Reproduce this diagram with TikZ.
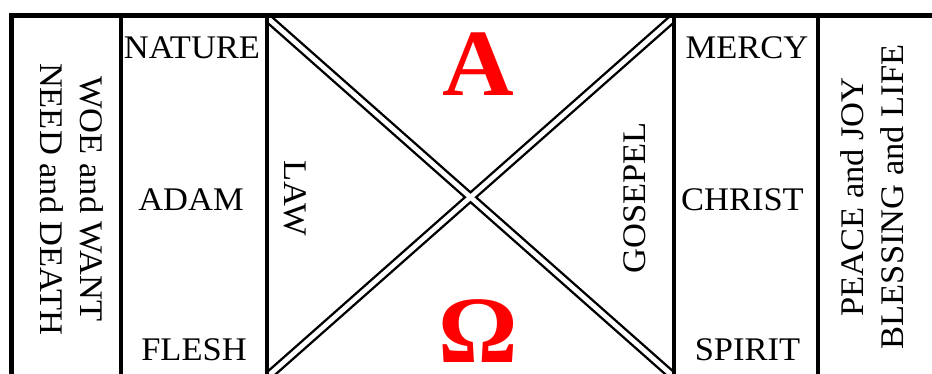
\documentclass[tikz,border=0pt]{standalone}
\usepackage{fontspec}
\setmainfont[FakeStretch=1.045]{Liberation Serif}
\begin{document}
\begin{tikzpicture}[x=1pt,y=-1pt,
  lbl/.style={inner sep=0pt, anchor=base, font=\fontsize{33}{40}\selectfont},
  vlbl/.style={inner sep=0pt, align=center, font=\fontsize{33}{40}\selectfont},
  big/.style={inner sep=0pt, anchor=base, text=red, font=\fontsize{95}{100}\selectfont\bfseries},
  frameline/.style={line width=4.7pt},
  colline/.style={line width=4pt},
  diagline/.style={line width=2.4pt, double=white, double distance=4.8pt}]
\useasboundingbox (0,0) rectangle (932,373);
\clip (0,0) rectangle (932,373);
% diagonals
\begin{scope}
  \clip (267,15.5) rectangle (674,377);
  \coordinate (tl) at (267,17.5);
  \coordinate (tr) at (674,17.5);
  \coordinate (bl) at (267,377);
  \coordinate (br) at (674,377);
  \draw[diagline] (tl) -- (br) (tr) -- (bl);
\end{scope}
% grid
\draw[colline] (121,15) -- (121,390);
\draw[colline] (267,15) -- (267,390);
\draw[colline] (674,15) -- (674,390);
\draw[colline] (817.5,15) -- (817.5,390);
\draw[frameline] (11.7,15.8) rectangle (950,378.5);
% labels
\node[lbl] (nature) at (192,58) {NATURE};
\node[lbl] (adam) at (191,210) {ADAM};
\node[lbl] (flesh) at (194,360) {FLESH};
\node[lbl] (mercy) at (747,58) {MERCY};
\node[lbl] (christ) at (742.5,210) {CHRIST};
\node[lbl] (spirit) at (747.5,360) {SPIRIT};
\node[vlbl, rotate=-90] (woe) at (72,199) {WOE and WANT\\NEED and DEATH};
\node[vlbl, rotate=90] (peace) at (872,197) {PEACE and JOY\\BLESSING and LIFE};
\node[vlbl, rotate=-90] (law) at (295,198) {LAW};
\node[vlbl, rotate=90] (gospel) at (635,198) {GOSEPEL};
\node[big] (alpha) at (478.5,95) {A};
\node[big] (omega) at (478,362) {Ω};
\end{tikzpicture}
\end{document}
